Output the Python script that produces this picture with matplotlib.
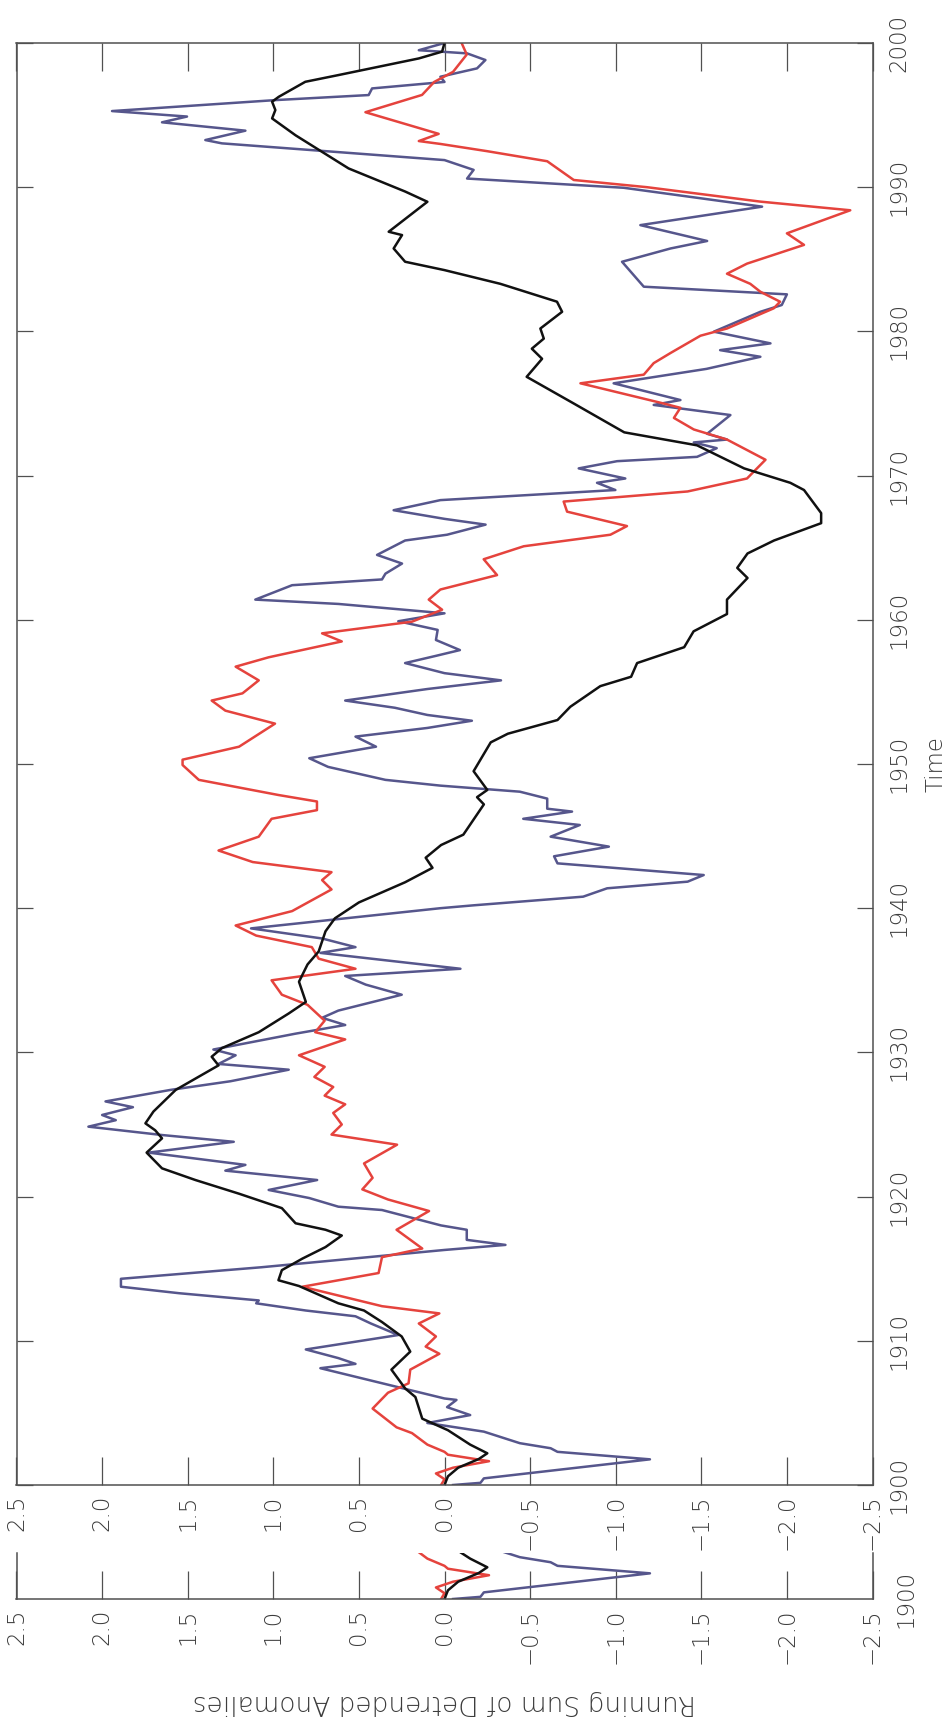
import matplotlib.pyplot as plt

W, H = 949, 1725

# running sums of detrended anomalies, three records (year, value)
black_years = [
    1900.0, 1900.6, 1901.2, 1901.8, 1902.2, 1902.8, 1903.8, 1904.6, 1906.1, 1906.7,
    1908.0, 1909.25, 1910.3, 1911.3, 1912.1, 1912.6, 1913.8, 1914.2, 1914.9, 1915.7,
    1916.5, 1917.3, 1917.7, 1918.15, 1919.2, 1920.2, 1921.15, 1921.96, 1923.05, 1924.04,
    1924.6, 1925.08, 1925.9, 1927.4, 1929.1, 1929.7, 1930.3, 1931.4, 1932.7, 1933.5,
    1934.9, 1936.1, 1937.0, 1938.4, 1939.3, 1940.4, 1941.8, 1942.8, 1943.5, 1944.38,
    1945.1, 1947.2, 1947.7, 1948.2, 1949.5, 1950.7, 1951.5, 1952.1, 1953.05, 1953.97,
    1955.4, 1956.05, 1957.0, 1958.1, 1959.2, 1960.4, 1961.4, 1962.9, 1963.6, 1964.6,
    1965.5, 1966.7, 1967.4, 1969.0, 1969.5, 1970.5, 1972.1, 1973.0, 1975.0, 1976.85,
    1978.1, 1978.8, 1979.5, 1980.2, 1981.36, 1982.06, 1983.3, 1984.25, 1984.83, 1985.75,
    1986.68, 1986.91, 1988.99, 1989.7, 1991.3, 1993.6, 1994.77, 1995.35, 1995.93, 1996.27,
    1997.31, 1997.78, 1998.93, 1999.4, 2000.0,
]
black_vals = [
    0.00, -0.02, -0.08, -0.20, -0.25, -0.15, -0.02, 0.13, 0.17, 0.23,
    0.31, 0.20, 0.25, 0.365, 0.47, 0.62, 0.85, 0.97, 0.95, 0.83,
    0.695, 0.60, 0.695, 0.87, 0.95, 1.20, 1.455, 1.65, 1.74, 1.65,
    1.69, 1.747, 1.70, 1.57, 1.32, 1.36, 1.30, 1.085, 0.91, 0.81,
    0.85, 0.80, 0.735, 0.695, 0.64, 0.50, 0.23, 0.07, 0.11, 0.02,
    -0.11, -0.23, -0.19, -0.25, -0.17, -0.23, -0.27, -0.37, -0.66, -0.735,
    -0.91, -1.09, -1.125, -1.40, -1.455, -1.65, -1.65, -1.77, -1.71, -1.77,
    -1.925, -2.20, -2.20, -2.10, -2.02, -1.75, -1.475, -1.05, -0.755, -0.48,
    -0.57, -0.51, -0.58, -0.56, -0.687, -0.657, -0.326, 0.0, 0.23, 0.297,
    0.248, 0.326, 0.10, 0.23, 0.56, 0.87, 1.007, 0.988, 1.007, 0.968,
    0.813, 0.618, 0.15, 0.014, 0.0,
]

blue_years = [
    1900.0, 1900.15, 1900.46, 1901.78, 1902.3, 1902.55, 1902.9, 1903.7, 1904.3, 1904.85,
    1905.4, 1905.9, 1906.0, 1908.1, 1908.4, 1908.8, 1909.4, 1910.4, 1911.2, 1911.7,
    1912.1, 1912.6, 1912.8, 1913.3, 1913.75, 1914.3, 1915.1, 1916.3, 1916.65, 1917.0,
    1917.7, 1918.0, 1919.07, 1919.3, 1919.9, 1920.46, 1921.15, 1921.8, 1922.2, 1923.05,
    1923.8, 1924.27, 1924.85, 1925.3, 1925.66, 1926.2, 1926.6, 1927.4, 1928.0, 1928.8,
    1929.2, 1929.8, 1930.2, 1931.3, 1931.9, 1932.4, 1932.9, 1934.0, 1934.7, 1935.3,
    1935.8, 1936.9, 1937.3, 1937.9, 1938.6, 1940.0, 1940.2, 1940.8, 1941.38, 1941.84,
    1942.3, 1943.11, 1943.6, 1944.27, 1944.96, 1945.77, 1946.2, 1946.7, 1946.9, 1947.6,
    1948.08, 1948.5, 1948.9, 1949.8, 1950.4, 1951.2, 1951.9, 1952.5, 1953.0, 1953.4,
    1953.9, 1954.4, 1955.2, 1955.8, 1956.3, 1957.0, 1957.5, 1957.9, 1958.6, 1959.3,
    1959.9, 1960.45, 1961.1, 1961.4, 1962.4, 1962.8, 1963.2, 1963.9, 1964.5, 1965.5,
    1965.9, 1966.6, 1967.0, 1967.6, 1968.3, 1969.0, 1969.5, 1969.8, 1970.5, 1971.0,
    1971.3, 1971.9, 1972.3, 1972.5, 1972.9, 1974.2, 1974.9, 1975.24, 1976.4, 1977.4,
    1978.24, 1978.7, 1979.17, 1979.98, 1981.36, 1981.83, 1982.57, 1983.1, 1984.83, 1985.75,
    1986.27, 1987.37, 1988.65, 1989.96, 1990.6, 1991.2, 1991.88, 1993.04, 1993.27, 1993.92,
    1994.5, 1994.9, 1995.28, 1996.04, 1996.39, 1996.85, 1997.3, 1997.66, 1998.24, 1998.82,
    1999.28, 1999.5, 2000.0,
]
blue_vals = [
    -0.05, -0.21, -0.23, -1.20, -0.66, -0.62, -0.44, -0.23, 0.10, -0.15,
    -0.015, -0.07, 0.0, 0.725, 0.52, 0.62, 0.81, 0.27, 0.43, 0.52,
    0.81, 1.10, 1.085, 1.55, 1.89, 1.89, 1.07, 0.0, -0.356, -0.13,
    -0.13, 0.02, 0.365, 0.62, 0.79, 1.027, 0.744, 1.28, 1.163, 1.728,
    1.231, 1.65, 2.08, 1.92, 2.0, 1.82, 1.98, 1.60, 1.25, 0.91,
    1.32, 1.22, 1.35, 0.87, 0.58, 0.715, 0.62, 0.25, 0.46, 0.58,
    -0.093, 0.725, 0.52, 0.715, 1.13, 0.024, -0.17, -0.81, -0.95, -1.42,
    -1.514, -0.66, -0.64, -0.96, -0.62, -0.79, -0.46, -0.745, -0.60, -0.60,
    -0.44, 0.024, 0.345, 0.68, 0.79, 0.40, 0.52, 0.10, -0.16, 0.10,
    0.29, 0.58, 0.10, -0.33, 0.0, 0.23, 0.05, -0.09, 0.05, 0.04,
    0.27, 0.0, 0.62, 1.105, 0.89, 0.365, 0.345, 0.248, 0.394, 0.23,
    -0.015, -0.24, 0.0, 0.297, 0.024, -0.998, -0.891, -1.056, -0.784, -1.008,
    -1.475, -1.59, -1.456, -1.65, -1.534, -1.67, -1.222, -1.378, -0.988, -1.53,
    -1.845, -1.61, -1.904, -1.573, -1.845, -1.97, -2.0, -1.164, -1.037, -1.32,
    -1.534, -1.144, -1.855, -1.047, -0.132, -0.17, 0.0, 1.30, 1.397, 1.163,
    1.65, 1.504, 1.942, 0.988, 0.443, 0.423, 0.0, 0.024, -0.19, -0.239,
    -0.132, 0.15, 0.0,
]

red_years = [
    1900.0, 1900.4, 1900.8, 1901.2, 1901.65, 1902.1, 1902.3, 1902.8, 1903.6, 1904.0,
    1905.3, 1906.4, 1907.05, 1908.0, 1909.1, 1909.6, 1910.3, 1911.2, 1911.9, 1912.4,
    1913.75, 1914.7, 1915.8, 1916.4, 1917.7, 1919.0, 1919.8, 1920.5, 1921.3, 1922.3,
    1923.6, 1924.3, 1925.0, 1925.8, 1926.4, 1927.0, 1927.6, 1928.3, 1929.0, 1929.8,
    1930.9, 1931.4, 1932.2, 1933.3, 1934.0, 1935.0, 1935.8, 1936.5, 1937.3, 1938.1,
    1938.8, 1939.8, 1941.3, 1941.95, 1942.5, 1943.2, 1944.0, 1944.96, 1946.2, 1946.8,
    1947.4, 1947.85, 1948.9, 1949.93, 1950.3, 1951.2, 1952.8, 1953.7, 1954.4, 1954.9,
    1955.8, 1956.75, 1957.4, 1958.5, 1959.06, 1959.87, 1960.7, 1961.4, 1962.1, 1963.1,
    1964.2, 1965.1, 1965.9, 1966.5, 1967.5, 1968.2, 1968.9, 1969.8, 1971.1, 1972.5,
    1973.2, 1974.0, 1974.7, 1975.0, 1976.4, 1977.0, 1977.8, 1978.5, 1979.7, 1980.2,
    1981.6, 1982.06, 1982.75, 1983.3, 1984.0, 1984.7, 1986.0, 1986.8, 1988.4, 1989.0,
    1990.0, 1990.5, 1991.8, 1992.5, 1993.0, 1993.2, 1993.7, 1995.2, 1996.4, 1997.3,
    1998.0, 1999.2, 2000.0,
]
red_vals = [
    0.02, 0.0, 0.05, -0.05, -0.26, -0.02, 0.0, 0.10, 0.19, 0.28,
    0.42, 0.33, 0.21, 0.20, 0.03, 0.11, 0.05, 0.15, 0.03, 0.365,
    0.83, 0.385, 0.365, 0.13, 0.28, 0.09, 0.33, 0.48, 0.42, 0.47,
    0.277, 0.66, 0.60, 0.65, 0.58, 0.70, 0.65, 0.76, 0.70, 0.85,
    0.58, 0.755, 0.70, 0.80, 0.95, 1.01, 0.52, 0.735, 0.775, 1.10,
    1.22, 0.89, 0.66, 0.715, 0.66, 1.12, 1.32, 1.085, 1.01, 0.745,
    0.745, 0.97, 1.435, 1.53, 1.53, 1.20, 0.99, 1.28, 1.36, 1.18,
    1.085, 1.22, 1.027, 0.60, 0.715, 0.19, 0.014, 0.092, 0.024, -0.307,
    -0.229, -0.463, -0.969, -1.066, -0.716, -0.696, -1.42, -1.767, -1.875, -1.65,
    -1.456, -1.34, -1.378, -1.28, -0.794, -1.164, -1.222, -1.32, -1.495, -1.65,
    -1.923, -1.96, -1.845, -1.786, -1.65, -1.767, -2.10, -2.00, -2.37, -1.845,
    -1.183, -0.755, -0.60, -0.248, 0.024, 0.15, 0.034, 0.462, 0.131, 0.06,
    -0.05, -0.13, -0.10,
]

value_ticks = [2.5, 2.0, 1.5, 1.0, 0.5, 0.0, -0.5, -1.0, -1.5, -2.0, -2.5]
value_labels = ["2.5", "2.0", "1.5", "1.0", "0.5", "0.0",
                "\u22120.5", "\u22121.0", "\u22121.5", "\u22122.0", "\u22122.5"]
year_ticks = [1900, 1910, 1920, 1930, 1940, 1950, 1960, 1970, 1980, 1990, 2000]
year_labels = [str(y) for y in year_ticks]

SERIES = [
    (blue_vals, blue_years, "#56568c"),
    (red_vals, red_years, "#e5433d"),
    (black_vals, black_years, "#111111"),
]
FRAME = "#505050"
TEXT = "#3c3c3c"
FS = 16.5

plt.rcParams["font.family"] = ["DejaVu Sans"]
plt.rcParams["font.weight"] = "light"


def px(left, top, width, height):
    return [left / W, 1 - (top + height) / H, width / W, height / H]


def draw_series(ax):
    for vals, years, color in SERIES:
        ax.plot(vals, years, color=color, lw=1.8, solid_joinstyle="round")


def value_axis(ax, top_ticks):
    ax.set_xlim(2.5, -2.5)
    ax.set_xticks(value_ticks)
    ax.set_xticklabels(value_labels, rotation=90, fontsize=FS, color=TEXT)
    ax.tick_params(axis="x", direction="in", length=20, width=0.9, color=FRAME,
                   top=top_ticks, bottom=True, pad=7)
    for spine in ax.spines.values():
        spine.set_color(FRAME)
        spine.set_linewidth(1.1)


fig = plt.figure(figsize=(W / 100, H / 100), dpi=100)

# main panel: time runs upward, anomaly decreases to the right
ax = fig.add_axes(px(16.5, 43, 856, 1442))
draw_series(ax)
value_axis(ax, top_ticks=True)
ax.set_ylim(1900, 2000)
ax.set_yticks(year_ticks)
ax.set_yticklabels(year_labels, rotation=90, va="center", fontsize=FS, color=TEXT)
ax.tick_params(axis="y", direction="in", length=11.5, width=0.9, color=FRAME,
               left=True, right=True, labelleft=False, labelright=True, pad=11)

# narrow strip repeating the first years of the record
strip_h = 46
strip = fig.add_axes(px(16.5, 1599 - strip_h, 856, strip_h))
draw_series(strip)
value_axis(strip, top_ticks=False)
strip.spines["top"].set_visible(False)
strip.set_ylim(1900, 1900 + 100 * strip_h / 1442)
strip.set_yticks([1900])
strip.set_yticklabels(["1900"], rotation=90, va="center", fontsize=FS, color=TEXT)
strip.tick_params(axis="y", length=0, left=False, right=False,
                  labelleft=False, labelright=True, pad=16)

fig.text(936 / W, 1 - 764 / H, "Time", rotation=90, ha="center", va="center",
         fontsize=FS, color=TEXT)
fig.text(444 / W, 1 - 1703 / H, "Running Sum of Detrended Anomalies", rotation=180,
         ha="center", va="center", fontsize=19, color=TEXT)

fig.savefig("out.png", dpi=100)
